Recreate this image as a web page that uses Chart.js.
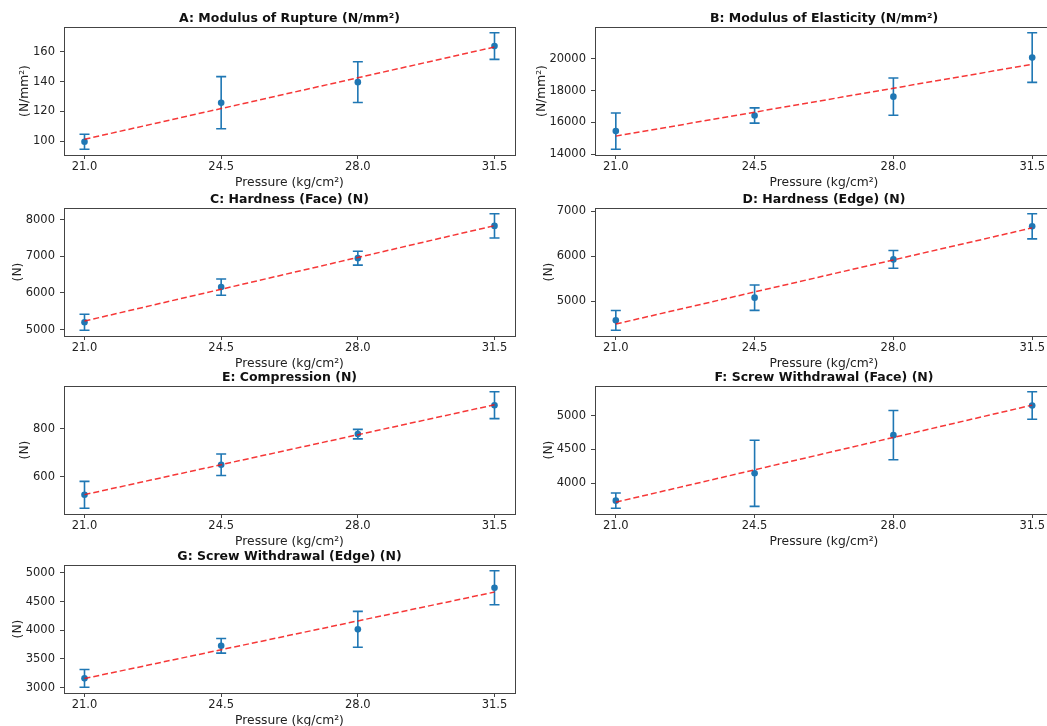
<!DOCTYPE html>
<html>
<head>
<meta charset="utf-8">
<script src="https://cdn.jsdelivr.net/npm/chart.js@4"></script>
<style>
  body { margin: 0; width: 1047px; height: 726px; overflow: hidden; background: #fff; position: relative; }
  .panel { position: absolute; }
</style>
</head>
<body>
<script>
// --- DATA ---
const pressures = [21.0, 24.5, 28.0, 31.5];
const xTickLabels = ['21.0', '24.5', '28.0', '31.5'];

const ruptureMean = [99.6, 125.8, 139.6, 163.8];
const ruptureErr = [5, 17.5, 13.7, 8.9];
const elasticityMean = [15450, 16430, 17620, 20080];
const elasticityErr = [1140, 480, 1170, 1560];
const hardFaceMean = [5200, 6160, 6950, 7830];
const hardFaceErr = [217, 222, 190, 330];
const hardEdgeMean = [4575, 5080, 5930, 6665];
const hardEdgeErr = [218, 282, 197, 278];
const compressionMean = [524, 650, 778, 899];
const compressionErr = [56, 45, 20, 56];
const screwFaceMean = [3741, 4146, 4712, 5151];
const screwFaceErr = [112, 490, 366, 203];
const screwEdgeMean = [3162, 3730, 4017, 4742];
const screwEdgeErr = [154, 127, 313, 296];

const titles = [
    'A: Modulus of Rupture (N/mm²)',
    'B: Modulus of Elasticity (N/mm²)',
    'C: Hardness (Face) (N)',
    'D: Hardness (Edge) (N)',
    'E: Compression (N)',
    'F: Screw Withdrawal (Face) (N)',
    'G: Screw Withdrawal (Edge) (N)'
];
const yLabels = ['(N/mm²)', '(N/mm²)', '(N)', '(N)', '(N)', '(N)', '(N)'];
const yTicks = [
    [100, 120, 140, 160],
    [14000, 16000, 18000, 20000],
    [5000, 6000, 7000, 8000],
    [5000, 6000, 7000],
    [600, 800],
    [4000, 4500, 5000],
    [3000, 3500, 4000, 4500, 5000]
];
const means = [ruptureMean, elasticityMean, hardFaceMean, hardEdgeMean, compressionMean, screwFaceMean, screwEdgeMean];
const errs = [ruptureErr, elasticityErr, hardFaceErr, hardEdgeErr, compressionErr, screwFaceErr, screwEdgeErr];
const xAxisLabel = 'Pressure (kg/cm²)';

// --- STYLE / LAYOUT ---
const BLUE = '#1f77b4';
const FIT_RED = 'rgba(245, 20, 20, 0.85)';
const FRAME = '#444';
const TEXT = '#222';
const FONT = '"DejaVu Sans", sans-serif';
const TICK_SIZE = 11.5;
const LABEL_SIZE = 12.3;
const TITLE_SIZE = 12.5;

const colLeft = [0, 530];
const colPlotLeft = [64, 595];
const colPlotRight = [515, 1053];
const rowPlotTop = [27, 208, 386, 565];
const PLOT_H = 128;
const TOP_PAD = 27;
const X_AXIS_H = 35;
const RIGHT_PAD = 20;

function linearFit(xs, ys) {
    const n = xs.length;
    const mx = xs.reduce((a, b) => a + b, 0) / n;
    const my = ys.reduce((a, b) => a + b, 0) / n;
    let sxy = 0, sxx = 0;
    for (let i = 0; i < n; i++) {
        sxy += (xs[i] - mx) * (ys[i] - my);
        sxx += (xs[i] - mx) ** 2;
    }
    const slope = sxy / sxx;
    return x => my + slope * (x - mx);
}

function makePanel(i) {
    const col = i % 2, row = Math.floor(i / 2);
    const mean = means[i], err = errs[i];
    const left = colLeft[col];
    const width = colPlotRight[col] + RIGHT_PAD - left;
    const height = TOP_PAD + PLOT_H + X_AXIS_H;

    const div = document.createElement('div');
    div.className = 'panel';
    div.style.left = left + 'px';
    div.style.top = (rowPlotTop[row] - TOP_PAD) + 'px';
    const canvas = document.createElement('canvas');
    canvas.width = width;
    canvas.height = height;
    div.appendChild(canvas);
    document.body.appendChild(div);

    // y range like matplotlib: 5% margin round the error bar extents
    const lo = Math.min(...mean.map((m, k) => m - err[k]));
    const hi = Math.max(...mean.map((m, k) => m + err[k]));
    const pad = (hi - lo) * 0.05;
    const fit = linearFit(pressures, mean);

    const decor = {
        id: 'decor' + i,
        beforeDatasetsDraw(chart) {
            const { ctx } = chart;
            const xs = chart.scales.x, ys = chart.scales.y;
            ctx.save();
            ctx.strokeStyle = BLUE;
            ctx.lineWidth = 1.6;
            pressures.forEach((p, k) => {
                const x = xs.getPixelForValue(p);
                const top = ys.getPixelForValue(mean[k] + err[k]);
                const bot = ys.getPixelForValue(mean[k] - err[k]);
                ctx.beginPath();
                ctx.moveTo(x, top); ctx.lineTo(x, bot);
                ctx.moveTo(x - 5, top); ctx.lineTo(x + 5, top);
                ctx.moveTo(x - 5, bot); ctx.lineTo(x + 5, bot);
                ctx.stroke();
            });
            ctx.restore();
        },
        afterDraw(chart) {
            const { ctx, chartArea: a } = chart;
            ctx.save();
            ctx.strokeStyle = FRAME;
            ctx.lineWidth = 1;
            ctx.strokeRect(Math.round(a.left) + 0.5, Math.round(a.top) + 0.5,
                Math.round(a.right - a.left), Math.round(a.bottom - a.top));

            // title
            ctx.fillStyle = '#111';
            ctx.font = 'bold ' + TITLE_SIZE + 'px ' + FONT;
            ctx.textAlign = 'center';
            ctx.textBaseline = 'middle';
            ctx.fillText(titles[i], (a.left + a.right) / 2, a.top - 8);

            // y label, just left of the widest tick label
            ctx.font = TICK_SIZE + 'px ' + FONT;
            const widest = Math.max(...yTicks[i].map(v => ctx.measureText(String(v)).width));
            const lx = a.left - 9 - widest - 8;
            ctx.font = LABEL_SIZE + 'px ' + FONT;
            ctx.translate(lx, (a.top + a.bottom) / 2);
            ctx.rotate(-Math.PI / 2);
            ctx.fillStyle = TEXT;
            ctx.fillText(yLabels[i], 0, 0);
            ctx.restore();
        }
    };

    new Chart(canvas, {
        type: 'scatter',
        data: {
            datasets: [
                {
                    type: 'line',
                    data: pressures.map(p => ({ x: p, y: fit(p) })),
                    borderColor: FIT_RED,
                    borderWidth: 1.5,
                    borderDash: [6, 3],
                    pointRadius: 0,
                    fill: false
                },
                {
                    data: pressures.map((p, k) => ({ x: p, y: mean[k] })),
                    backgroundColor: BLUE,
                    borderColor: BLUE,
                    pointRadius: 3.3,
                    borderWidth: 0
                }
            ]
        },
        options: {
            responsive: false,
            animation: false,
            events: [],
            layout: { padding: { top: TOP_PAD, right: RIGHT_PAD, left: 0, bottom: 0 } },
            plugins: { legend: { display: false }, tooltip: { enabled: false } },
            scales: {
                x: {
                    type: 'linear',
                    min: 21 - 0.525,
                    max: 31.5 + 0.525,
                    afterBuildTicks: s => { s.ticks = pressures.map(v => ({ value: v })); },
                    afterFit: s => { s.height = X_AXIS_H; },
                    ticks: {
                        color: TEXT,
                        font: { family: FONT, size: TICK_SIZE },
                        padding: 1,
                        maxRotation: 0,
                        callback: (v, k) => xTickLabels[k]
                    },
                    grid: { drawOnChartArea: false, drawTicks: true, tickLength: 4, color: FRAME },
                    border: { display: false },
                    title: {
                        display: true,
                        text: xAxisLabel,
                        color: TEXT,
                        font: { family: FONT, size: LABEL_SIZE },
                        padding: { top: 0, bottom: 0 }
                    }
                },
                y: {
                    type: 'linear',
                    min: lo - pad,
                    max: hi + pad,
                    afterBuildTicks: s => { s.ticks = yTicks[i].map(v => ({ value: v })); },
                    afterFit: s => { s.width = colPlotLeft[col] - left; },
                    ticks: {
                        color: TEXT,
                        font: { family: FONT, size: TICK_SIZE },
                        padding: 5,
                        callback: v => String(v)
                    },
                    grid: { drawOnChartArea: false, drawTicks: true, tickLength: 4, color: FRAME },
                    border: { display: false }
                }
            }
        },
        plugins: [decor]
    });
}

document.addEventListener('DOMContentLoaded', () => {
    titles.forEach((t, i) => makePanel(i));
});
</script>
</body>
</html>
